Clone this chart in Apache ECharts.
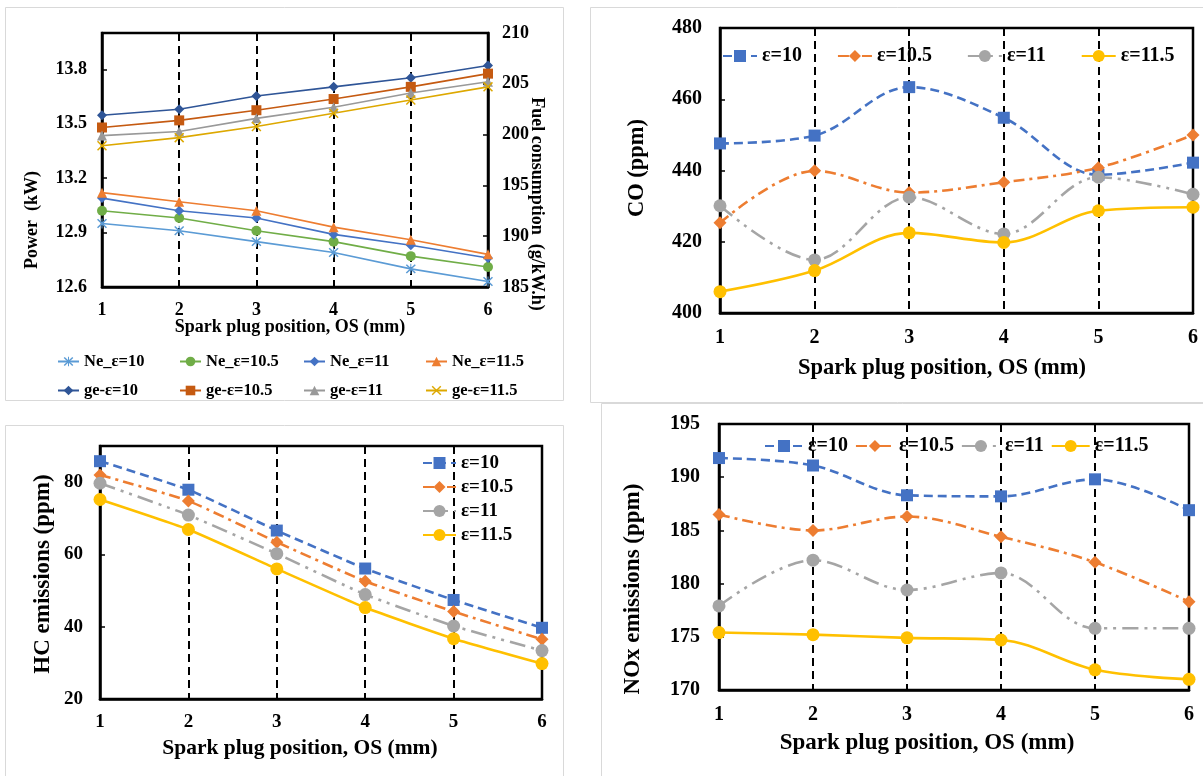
<!DOCTYPE html>
<html>
<head>
<meta charset="utf-8">
<script src="https://cdn.jsdelivr.net/npm/echarts/dist/echarts.min.js"></script>
<style>
  html, body { margin: 0; padding: 0; background: #ffffff; }
  #chart { width: 1203px; height: 776px; }
</style>
</head>
<body>
<div id="chart"></div>
<script>
// Spark plug position OS (mm)
const positions = [1, 2, 3, 4, 5, 6];

// Effective power Ne (kW) – left axis of the first panel
const neE10  = [12.95, 12.91, 12.85, 12.79, 12.70, 12.63];
const neE105 = [13.02, 12.98, 12.91, 12.85, 12.77, 12.71];
const neE11  = [13.09, 13.02, 12.98, 12.89, 12.83, 12.76];
const neE115 = [13.12, 13.07, 13.02, 12.93, 12.86, 12.78];

// Specific fuel consumption ge (g/kW.h) – right axis of the first panel
const geE10  = [201.9, 202.5, 203.8, 204.7, 205.6, 206.8];
const geE105 = [200.7, 201.4, 202.4, 203.5, 204.7, 206.0];
const geE11  = [199.9, 200.3, 201.6, 202.7, 204.1, 205.2];
const geE115 = [198.9, 199.7, 200.8, 202.1, 203.4, 204.7];

// CO (ppm)
const coE10  = [447.6, 449.8, 463.4, 454.8, 438.8, 442.2];
const coE105 = [425.3, 439.9, 433.8, 436.7, 440.8, 450.0];
const coE11  = [430.1, 414.9, 432.5, 422.2, 438.1, 433.3];
const coE115 = [406.0, 411.9, 422.5, 419.8, 428.7, 429.7];

// HC emissions (ppm)
const hcE10  = [85.8, 77.9, 66.6, 56.1, 47.4, 39.7];
const hcE105 = [82.0, 74.8, 63.4, 52.6, 44.2, 36.5];
const hcE11  = [79.7, 70.9, 60.2, 48.9, 40.2, 33.4];
const hcE115 = [75.2, 66.9, 56.0, 45.3, 36.7, 29.8];

// NOx emissions (ppm)
const noxE10  = [191.8, 191.1, 188.3, 188.2, 189.8, 186.9];
const noxE105 = [186.5, 185.0, 186.3, 184.4, 182.0, 178.3];
const noxE11  = [177.9, 182.2, 179.4, 181.0, 175.8, 175.8];
const noxE115 = [175.4, 175.2, 174.9, 174.7, 171.9, 171.0];

// Axis ranges: [min, max, step]
const powerRange = [12.6, 14.0, 0.3];
const fuelRange  = [185, 210, 5];
const coRange    = [400, 480, 20];
const hcRange    = [20, 90, 20];
const noxRange   = [170, 195, 5];

const serif = '"Liberation Serif", "Times New Roman", serif';

// Marker shapes not built into the library
const starPath = 'path://M9,0H11V20H9Z M0.6,2.6L2.6,0.6L19.4,17.4L17.4,19.4Z M17.4,0.6L19.4,2.6L2.6,19.4L0.6,17.4Z';
const crossPath = 'path://M0.6,2.6L2.6,0.6L19.4,17.4L17.4,19.4Z M17.4,0.6L19.4,2.6L2.6,19.4L0.6,17.4Z';

const pts = vals => positions.map((x, i) => [x, vals[i]]);

const chart = echarts.init(document.getElementById('chart'), null, { renderer: 'canvas' });

const gridBase = { show: true, borderColor: '#000', borderWidth: 2.5, backgroundColor: 'transparent', containLabel: false, outerBoundsMode: 'none' };
const grids = [
  { left: 102, top: 33, width: 386, height: 254 },
  { left: 720, top: 28, width: 473, height: 285 },
  { left: 100, top: 446, width: 442, height: 253 },
  { left: 719, top: 424, width: 470, height: 266 }
].map(g => Object.assign({}, gridBase, g));

function xAxisFor(gridIndex, fontSize, margin) {
  return {
    type: 'value', gridIndex, min: 1, max: 6, interval: 1,
    axisLine: { show: true, onZero: false, lineStyle: { color: '#000', width: 2.5 } },
    axisTick: { show: false },
    axisLabel: { color: '#000', fontFamily: serif, fontWeight: 'bold', fontSize, margin },
    splitLine: { show: true, lineStyle: { color: '#000', width: 2, type: [8, 5] } }
  };
}

function yAxisFor(gridIndex, range, fontSize, margin, decimals, showMax, position) {
  return {
    type: 'value', gridIndex, position: position || 'left',
    min: range[0], max: range[1], interval: range[2],
    axisLine: { show: true, onZero: false, lineStyle: { color: '#000', width: 2.5 } },
    axisTick: { show: true, inside: true, length: 5, lineStyle: { color: '#000', width: 1.5 } },
    axisLabel: {
      color: '#000', fontFamily: serif, fontWeight: 'bold', fontSize, margin,
      showMaxLabel: showMax, formatter: v => Number(v).toFixed(decimals)
    },
    splitLine: { show: false }
  };
}

const xAxes = [
  xAxisFor(0, 18, 14),
  xAxisFor(1, 20, 15),
  xAxisFor(2, 19, 14),
  xAxisFor(3, 20, 15)
];
const yAxes = [
  yAxisFor(0, powerRange, 18, 15, 1, false, 'left'),
  yAxisFor(0, fuelRange, 18, 14, 0, true, 'right'),
  yAxisFor(1, coRange, 20, 18, 0, true, 'left'),
  yAxisFor(2, hcRange, 19, 17, 0, false, 'left'),
  yAxisFor(3, noxRange, 20, 19, 0, true, 'left')
];

// Engine performance panel: power and fuel consumption
function perfSeries(name, vals, yAxisIndex, color, symbol, size) {
  return {
    type: 'line', name, xAxisIndex: 0, yAxisIndex, data: pts(vals),
    symbol, symbolSize: size, showSymbol: true, smooth: false,
    lineStyle: { color, width: 1.6, type: 'solid' },
    itemStyle: { color, borderWidth: 0 },
    emphasis: { disabled: true }, z: 3
  };
}
const perfDefs = [
  ['Ne_ε=10',   neE10,  0, '#5B9BD5', starPath, 10],
  ['Ne_ε=10.5', neE105, 0, '#70AD47', 'circle', 10],
  ['Ne_ε=11',   neE11,  0, '#4472C4', 'diamond', 10],
  ['Ne_ε=11.5', neE115, 0, '#ED7D31', 'triangle', 10],
  ['ge-ε=10',   geE10,  1, '#2F5597', 'diamond', 10],
  ['ge-ε=10.5', geE105, 1, '#C55A11', 'rect', 10],
  ['ge-ε=11',   geE11,  1, '#999999', 'triangle', 10],
  ['ge-ε=11.5', geE115, 1, '#DDA800', crossPath, 10]
];
const perf = perfDefs.map(d => perfSeries(...d));

// Emission panels share one look per compression ratio
const epsStyles = [
  { name: 'ε=10',   color: '#4472C4', symbol: 'rect',    size: 12, dash: [9, 5] },
  { name: 'ε=10.5', color: '#ED7D31', symbol: 'diamond', size: 13, dash: [11, 5, 3, 5] },
  { name: 'ε=11',   color: '#A5A5A5', symbol: 'circle',  size: 13, dash: [16, 6, 3, 6, 3, 6] },
  { name: 'ε=11.5', color: '#FFC000', symbol: 'circle',  size: 13, dash: 'solid' }
];
function emissionSeries(gridIndex, yAxisIndex, sets, smooth) {
  return sets.map((vals, k) => {
    const s = epsStyles[k];
    return {
      type: 'line', name: s.name, xAxisIndex: gridIndex, yAxisIndex, data: pts(vals),
      symbol: s.symbol, symbolSize: s.size, showSymbol: true, smooth,
      lineStyle: { color: s.color, width: 2.6, type: s.dash },
      itemStyle: { color: s.color, borderWidth: 0 },
      emphasis: { disabled: true }, z: 3
    };
  });
}
const co  = emissionSeries(1, 2, [coE10, coE105, coE11, coE115], 0.35);
const hc  = emissionSeries(2, 3, [hcE10, hcE105, hcE11, hcE115], 0.15);
const nox = emissionSeries(3, 4, [noxE10, noxE105, noxE11, noxE115], 0.35);

const legendText = size => ({ color: '#000', fontFamily: serif, fontWeight: 'bold', fontSize: size });

// Two-row legend of the performance panel, one component per cell so columns line up
const perfCols = [57, 179, 303, 425];
const perfRows = [353, 382];
const perfLegends = perfDefs.map((d, i) => ({
  data: [d[0]], left: perfCols[i % 4], top: perfRows[Math.floor(i / 4)],
  padding: 0, itemWidth: 21, itemHeight: 12, itemGap: 0,
  selectedMode: false, textStyle: legendText(16.5)
}));

const emisNames = epsStyles.map(s => s.name);
const legends = perfLegends.concat([
  { data: emisNames, left: 722, top: 46, orient: 'horizontal', padding: 0,
    itemWidth: 34, itemHeight: 15, itemGap: 35, selectedMode: false, textStyle: legendText(20) },
  { data: emisNames, left: 422, top: 453, orient: 'vertical', padding: 0,
    itemWidth: 33, itemHeight: 15, itemGap: 4, selectedMode: false,
    textStyle: Object.assign(legendText(19), { lineHeight: 20 }) },
  { data: emisNames, left: 764, top: 436, orient: 'horizontal', padding: 0,
    itemWidth: 38, itemHeight: 15, itemGap: 7, selectedMode: false, textStyle: legendText(20) }
]);

// Panel frames and axis titles
const frame = (x, y, w, h) => ({
  type: 'rect', silent: true, z: -10,
  shape: { x, y, width: w, height: h },
  style: { fill: 'none', stroke: '#D9D9D9', lineWidth: 1 }
});
const title = (text, x, y, size, rotation) => ({
  type: 'text', silent: true, x, y, rotation: rotation || 0,
  style: { text, fill: '#000', font: 'bold ' + size + 'px ' + serif, align: 'center', verticalAlign: 'middle' }
});
const graphics = [
  frame(5.5, 7.5, 558, 393),
  frame(590.5, 7.5, 620, 395),
  frame(5.5, 425.5, 558, 360),
  frame(601.5, 403.5, 610, 380),
  title('Power  (kW)', 32, 220, 18, Math.PI / 2),
  title('Fuel consumption  (g/kW.h)', 537, 204, 18, -Math.PI / 2),
  title('Spark plug position, OS (mm)', 290, 327, 18),
  title('CO (ppm)', 637, 168, 22.5, Math.PI / 2),
  title('Spark plug position, OS (mm)', 942, 368, 22.5),
  title('HC emissions (ppm)', 43, 574, 23, Math.PI / 2),
  title('Spark plug position, OS (mm)', 300, 748, 21.5),
  title('NOx emissions (ppm)', 633, 589, 23, Math.PI / 2),
  title('Spark plug position, OS (mm)', 927, 743, 23)
];

chart.setOption({
  backgroundColor: '#ffffff',
  animation: false,
  grid: grids,
  xAxis: xAxes,
  yAxis: yAxes,
  legend: legends,
  graphic: graphics,
  series: perf.concat(co, hc, nox)
});
</script>
</body>
</html>
